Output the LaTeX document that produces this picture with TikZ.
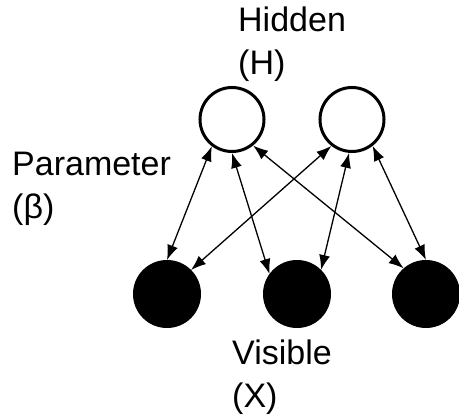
\documentclass[tikz,border=0pt]{standalone}
\usepackage{fontspec}
\setmainfont{Liberation Sans}
\usetikzlibrary{arrows.meta}
\tikzset{
  hidden/.style={circle,draw,line width=3pt,fill=white,minimum size=64pt,inner sep=0pt},
  visible/.style={circle,draw,fill=black,line width=1pt,minimum size=67pt,inner sep=0pt},
  link/.style={line width=1.3pt,{Latex[length=15pt,width=11pt]}-{Latex[length=15pt,width=11pt]}},
  lbl/.style={align=left,anchor=base west,inner sep=0pt,font=\fontsize{34}{43}\selectfont}
}

\begin{document}
\begin{tikzpicture}[x=1pt,y=-1pt]
	\useasboundingbox (0,0) rectangle (459,417);
	\node[hidden] (hid1) at (232,119.5) {};
	\node[hidden] (hid2) at (352,119.5) {};
	\node[visible] (vis1) at (167,294) {};
	\node[visible] (vis2) at (297,294) {};
	\node[visible] (vis3) at (426,294) {};
	\node[lbl] (htxt) at (238,75) {Hidden\\(H)};
	\node[lbl] (ptxt) at (12,219) {Parameter\\(β)};
	\node[lbl] (vtxt) at (232,408) {Visible\\(X)};
	\draw[link] (hid1.233) -- (vis1.90);
	\draw[link] (hid1.270) -- (vis2.144);
	\draw[link] (hid1.309) -- (vis3.131);
	\draw[link] (hid2.232) -- (vis1.45);
	\draw[link] (hid2.265) -- (vis2.45);
	\draw[link] (hid2.308) -- (vis3.90);
\end{tikzpicture}
\end{document}
